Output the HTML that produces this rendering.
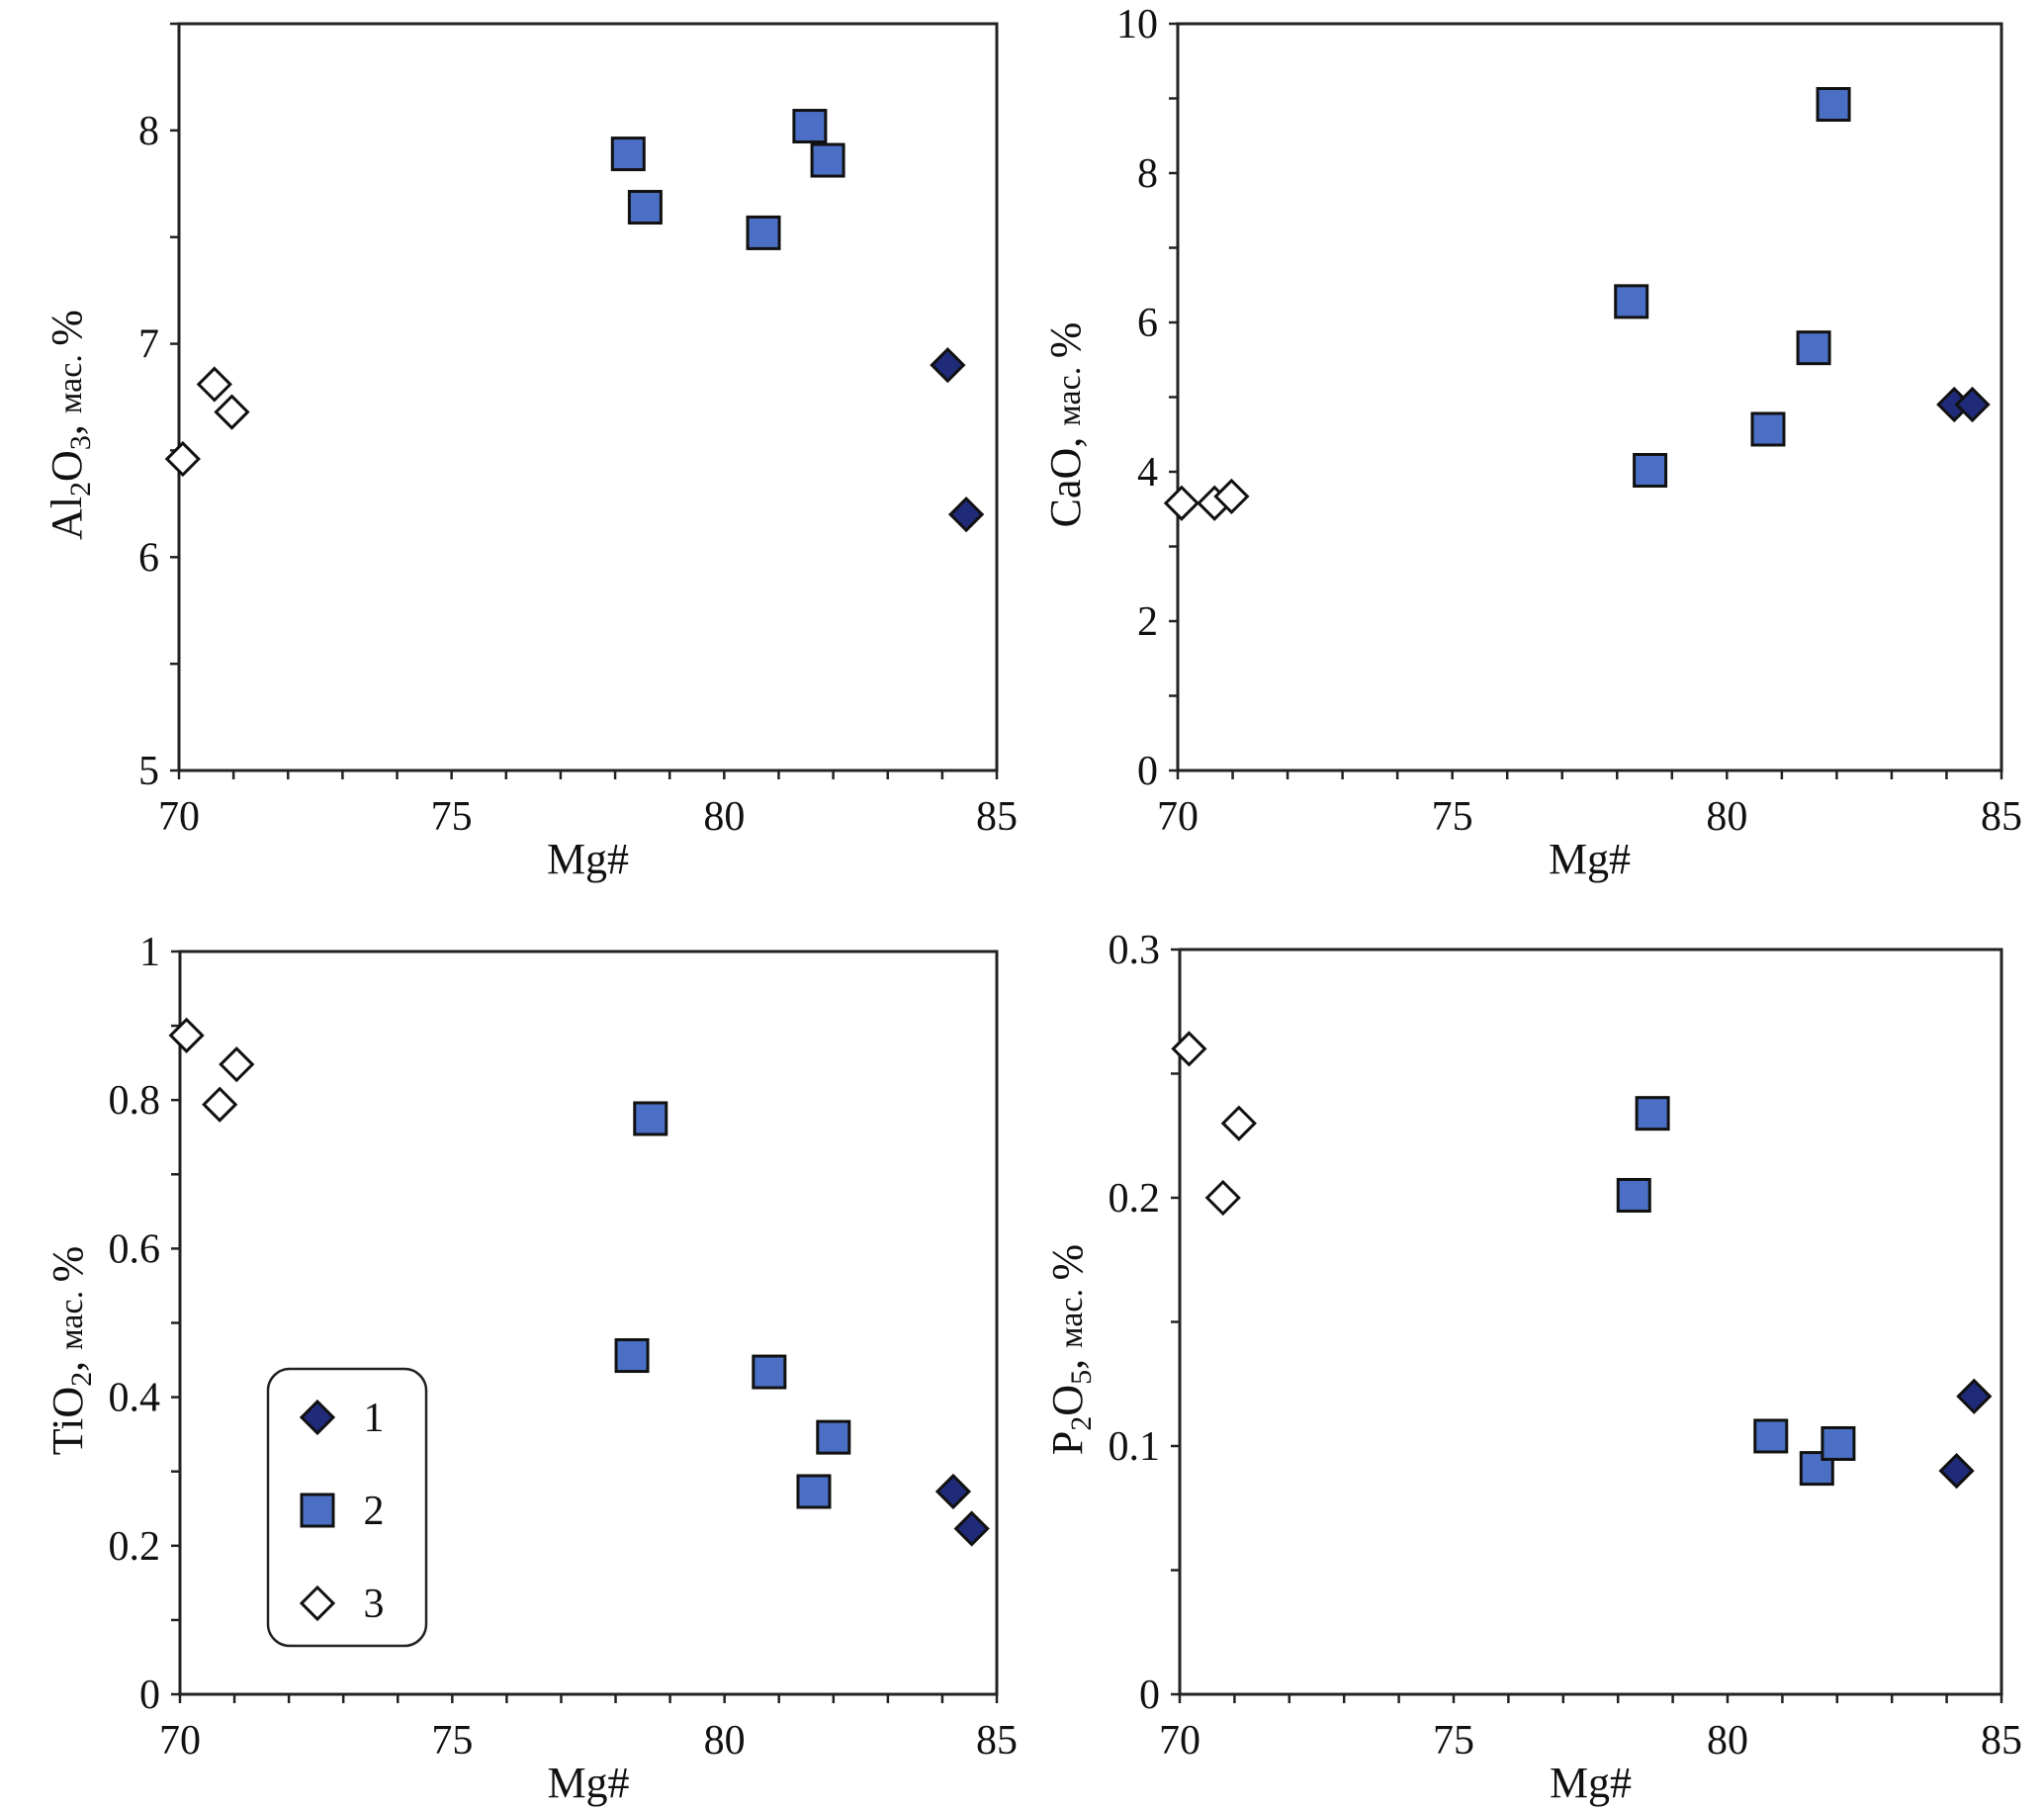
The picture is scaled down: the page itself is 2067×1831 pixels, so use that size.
<!DOCTYPE html>
<html><head><meta charset="utf-8"><style>
html,body{margin:0;padding:0;background:#fff;}
svg{display:block;font-family:"Liberation Serif",serif;}
</style></head><body>
<svg id="fig" width="2067" height="1831" viewBox="0 0 2067 1831" xmlns="http://www.w3.org/2000/svg"></svg>
<script>
const NS="http://www.w3.org/2000/svg";
const svg=document.getElementById('fig');
const alX1=[84.1,84.44], alY1=[6.9,6.2];
const alX2=[78.24,78.55,80.72,81.57,81.9], alY2=[7.89,7.64,7.52,8.02,7.86];
const alX3=[70.07,70.65,70.97], alY3=[6.46,6.81,6.68];
const caX1=[84.14,84.47], caY1=[4.9,4.9];
const caX2=[78.26,78.6,80.75,81.58,81.94], caY2=[6.28,4.02,4.57,5.66,8.92];
const caX3=[70.07,70.67,70.98], caY3=[3.58,3.58,3.67];
const tiX1=[84.2,84.54], tiY1=[0.273,0.223];
const tiX2=[78.64,78.3,80.82,82.0,81.64], tiY2=[0.775,0.456,0.434,0.346,0.273];
const tiX3=[70.12,70.73,71.04], tiY3=[0.887,0.794,0.848];
const pX1=[84.18,84.5], pY1=[0.090,0.120];
const pX2=[78.63,78.29,80.79,81.63,82.02], pY2=[0.234,0.201,0.104,0.091,0.101];
const pX3=[70.17,70.79,71.08], pY3=[0.260,0.200,0.230];
const xTicks=["70","75","80","85"];
const alTicks=["5","6","7","8"];
const caTicks=["0","2","4","6","8","10"];
const tiTicks=["0","0.2","0.4","0.6","0.8","1"];
const pTicks=["0","0.1","0.2","0.3"];

function el(tag,attrs,parent){const e=document.createElementNS(NS,tag);for(const k in attrs)e.setAttribute(k,attrs[k]);(parent||svg).appendChild(e);return e;}

function panel(o){
  const g=el('g',{});
  
  
  const X=v=>o.L+(v-70)/15*(o.R-o.L);
  const Y=v=>o.B-(v-o.ymin)/(o.ymax-o.ymin)*(o.B-o.T);
  const frame=el('rect',{x:o.L,y:o.T,width:o.R-o.L,height:o.B-o.T,fill:'none',stroke:'#222','stroke-width':3},g);
  
  
  for(let v=70;v<=85;v+=1){el('line',{x1:X(v),x2:X(v),y1:o.B,y2:o.B+9,stroke:'#222','stroke-width':2.5},g);}
  for(let i=0;i<=Math.round((o.ymax-o.ymin)/o.minor);i++){const v=o.ymin+i*o.minor;el('line',{x1:o.L-9,x2:o.L,y1:Y(v),y2:Y(v),stroke:'#222','stroke-width':2.5},g);}
  xTicks.forEach(t=>{const tx=el('text',{x:X(+t),y:o.B+60,'font-size':42,'text-anchor':'middle',fill:'#111'},g);tx.textContent=t;
    
    });
  o.yt.forEach(t=>{const tx=el('text',{x:o.L-20,y:Y(+t)+14,'font-size':42,'text-anchor':'end',fill:'#111'},g);tx.textContent=t;
    
    });
  const xt=el('text',{x:(o.L+o.R)/2,y:o.B+104,'font-size':44,'text-anchor':'middle',fill:'#111'},g);xt.textContent='Mg#';
  
  
  const cy=(o.T+o.B)/2+28;
  const yt=el('text',{x:0,y:0,'font-size':44,'text-anchor':'middle',fill:'#111',transform:`translate(${o.L-99},${cy}) rotate(-90)`},g);
  
  
  o.title.forEach(p=>{const s=el('tspan',{},yt);s.textContent=p[0];if(p[1]==='sub'){s.setAttribute('font-size',30);s.setAttribute('dy',9);}else if(p[1]==='after'){s.setAttribute('dy',-9);}else if(p[1]==='small'){s.setAttribute('font-size',34);}});
  o.series.forEach((s,si)=>{s[0].forEach((xv,i)=>{
    const cx=X(xv),cyy=Y(s[1][i]);let m;
    if(si===1){m=el('rect',{x:cx-16,y:cyy-16,width:32,height:32,fill:'#4a6fc4',stroke:'#111','stroke-width':3},g);}
    else{m=el('polygon',{points:`${cx},${cyy-16} ${cx+16},${cyy} ${cx},${cyy+16} ${cx-16},${cyy}`,fill:si===0?'#1f2a78':'#fff',stroke:'#111','stroke-width':3},g);}
    
  });});
}
const mt=[['мас. ','small'],['%']];
panel({name:'al2o3-panel',L:181,R:1008,T:24,B:779,ymin:5,ymax:8.5,minor:0.5,yt:alTicks,
  title:[['Al'],['2','sub'],['O','after'],['3','sub'],[', ','after']].concat(mt),
  series:[[alX1,alY1],[alX2,alY2],[alX3,alY3]]});
panel({name:'cao-panel',L:1191,R:2024,T:24,B:779,ymin:0,ymax:10,minor:1,yt:caTicks,
  title:[['CaO, ']].concat(mt),
  series:[[caX1,caY1],[caX2,caY2],[caX3,caY3]]});
panel({name:'tio2-panel',L:182,R:1008,T:962,B:1713,ymin:0,ymax:1,minor:0.1,yt:tiTicks,
  title:[['TiO'],['2','sub'],[', ','after']].concat(mt),
  series:[[tiX1,tiY1],[tiX2,tiY2],[tiX3,tiY3]]});
panel({name:'p2o5-panel',L:1193,R:2024,T:960,B:1713,ymin:0,ymax:0.3,minor:0.05,yt:pTicks,
  title:[['P'],['2','sub'],['O','after'],['5','sub'],[', ','after']].concat(mt),
  series:[[pX1,pY1],[pX2,pY2],[pX3,pY3]]});
const lg=el('g',{});


el('rect',{x:271,y:1384,width:160,height:280,rx:22,fill:'#fff',stroke:'#222','stroke-width':2.5},lg);
const legY=[1433,1527,1621];
const legLabels=["1","2","3"];
legY.forEach((y,i)=>{
  const cx=321;let m;
  if(i===1)m=el('rect',{x:cx-16,y:y-16,width:32,height:32,fill:'#4a6fc4',stroke:'#111','stroke-width':3},lg);
  else m=el('polygon',{points:`${cx},${y-16} ${cx+16},${y} ${cx},${y+16} ${cx-16},${y}`,fill:i===0?'#1f2a78':'#fff',stroke:'#111','stroke-width':3},lg);
  
  
  const t=el('text',{x:378,y:y+14,'font-size':42,'text-anchor':'middle',fill:'#111'},lg);t.textContent=legLabels[i];
  
  
});
</script>
</body></html>
